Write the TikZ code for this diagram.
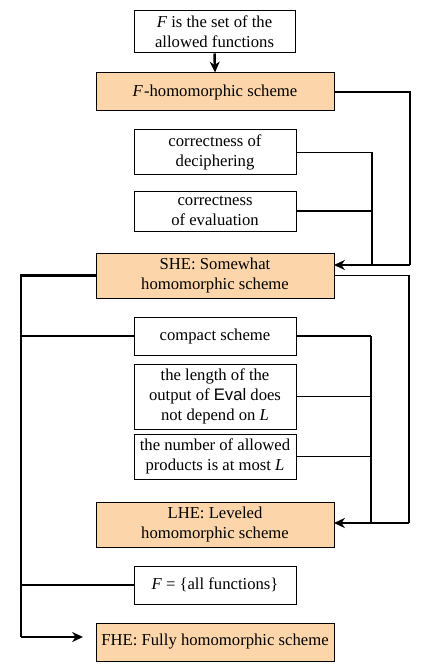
\documentclass[tikz,border=0pt]{standalone}
\usepackage{fontspec}
\setmainfont{Liberation Serif}
\newfontfamily\evalfont{Liberation Sans}
\usetikzlibrary{arrows.meta,calc}
\definecolor{peach}{RGB}{252,214,170}
\begin{document}
\begin{tikzpicture}[x=0.6pt,y=-0.6pt,
  every node/.style={font=\fontsize{10}{12}\selectfont},
  wbox/.style={draw=black,line width=0.6pt,fill=white,align=center,inner sep=0pt,minimum width=97.2pt},
  obox/.style={draw=black,line width=0.6pt,fill=peach,align=center,inner sep=0pt,minimum width=142.8pt},
  feed/.style={line width=1pt},
  trunk/.style={line width=1.5pt},
  arr/.style={line width=1.5pt,-{Stealth[length=6.5pt,width=6pt,inset=2pt]}}]
\useasboundingbox (0,0) rectangle (421,670);
% nodes
\node[wbox,minimum width=96.6pt,minimum height=25.2pt] (top) at (214.5,32) {\textit{F} is the set of the\\allowed functions};
\node[obox,minimum height=22.8pt] (fh) at (215,92) {\textit{F}\kern0.6pt-homomorphic scheme};
\node[wbox,minimum height=27pt] (dec) at (215,152.5) {correctness of\\deciphering};
\node[wbox,minimum height=24pt] (ev) at (215,211) {correctness\\of evaluation};
\node[obox,minimum height=27pt] (she) at (215,275.5) {SHE: Somewhat\\homomorphic scheme};
\node[wbox,minimum height=22.8pt] (cmp) at (215,336) {compact scheme};
\node[wbox,minimum height=39pt] (len) at (215,396.5) {the length of the\\output of {\evalfont Eval} does\\not depend on \textit{L}};
\node[wbox,minimum height=27pt] (prod) at (215,456.5) {the number of allowed\\products is at most \textit{L}};
\node[obox,minimum height=27pt] (lhe) at (215,524.5) {LHE: Leveled\\homomorphic scheme};
\node[wbox,minimum height=22.8pt] (all) at (215,585) {\textit{F}\ =\ \{all functions\}};
\node[obox,minimum height=22.8pt] (fhe) at (215,642) {FHE: Fully homomorphic scheme};
% coordinates
\coordinate (sheIn) at (334,265);
\coordinate (rA) at (410,265);
\coordinate (jA) at (372,265);
\coordinate (lheIn) at (334,523);
\coordinate (rB) at (409,523);
\coordinate (jB) at (371,523);
\coordinate (lT) at (21,275.5);
\coordinate (lB) at (21,637);
\coordinate (fheIn) at (83,637);
% connectors
\draw[arr] (top.south) -- (fh.north);
\draw[feed] (fh.east) -| (rA);
\draw[arr] (rA) -- (sheIn);
\draw[feed] (dec.east) -- (dec.east -| jA);
\draw[feed] (ev.east) -- (ev.east -| jA);
\draw[trunk] (dec.east -| jA) -- (jA);
\draw[feed] (she.east) -| (rB);
\draw[arr] (rB) -- (lheIn);
\draw[feed] (cmp.east) -- (cmp.east -| jB);
\draw[feed] (len.east) -- (len.east -| jB);
\draw[feed] (prod.east) -- (prod.east -| jB);
\draw[trunk] (cmp.east -| jB) -- (jB);
\draw[trunk] (she.west) -- (lT) -- (lB);
\draw[arr] (lB) -- (fheIn);
\draw[feed] (cmp.west) -- (cmp.west -| lT);
\draw[feed] (all.west) -- (all.west -| lT);
\end{tikzpicture}
\end{document}
